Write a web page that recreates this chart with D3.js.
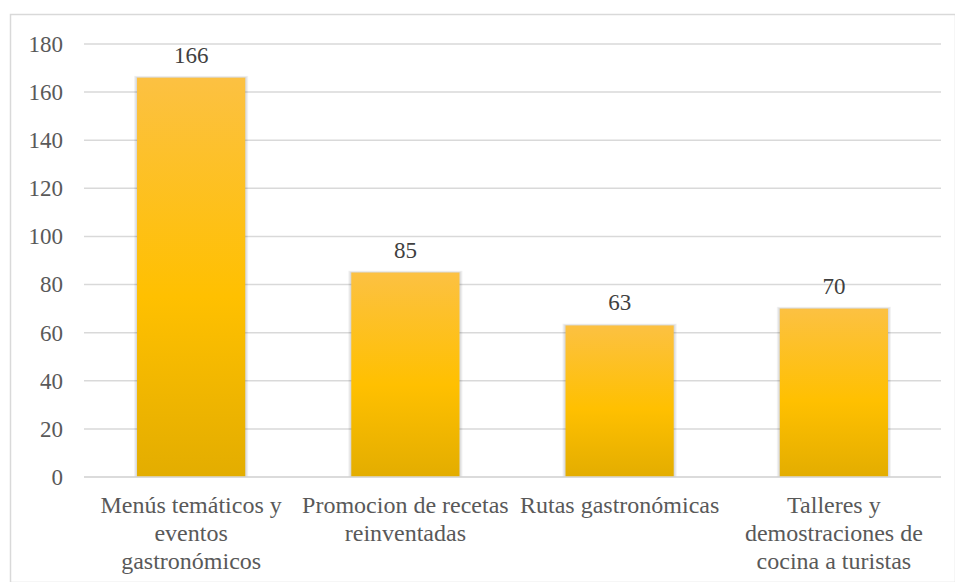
<!DOCTYPE html>
<html><head><meta charset="utf-8">
<script src="https://cdn.jsdelivr.net/npm/d3@7"></script>
<style>
html,body{margin:0;padding:0;background:#fff;}
svg{display:block;font-family:'Liberation Serif';}
svg text, svg tspan{font-family:'Liberation Serif' !important;}
</style></head>
<body>
<svg id="chart" width="955" height="582"></svg>
<script>
const categories = [
  ["Menús temáticos y", "eventos", "gastronómicos"],
  ["Promocion de recetas", "reinventadas"],
  ["Rutas gastronómicas"],
  ["Talleres y", "demostraciones de", "cocina a turistas"]
];
const values = [166, 85, 63, 70];
const yTicks = [0, 20, 40, 60, 80, 100, 120, 140, 160, 180];

const svg = d3.select("#chart");
const W = 955, H = 582;
const m = {left: 84, right: 14, top: 44, bottom: 105};
const plotW = W - m.left - m.right, plotH = H - m.top - m.bottom;
const txtColor = "#595959";
const numStyle = "font-family:'Liberation Serif';font-size:23px";
const catStyle = "font-family:'Liberation Serif';font-size:24px";

// outer border
svg.append("rect").attr("x", 10.5).attr("y", 14.5).attr("width", W - 10).attr("height", H - 14)
  .attr("fill", "none").attr("stroke", "#d9d9d9").attr("stroke-width", 1.5);

const defs = svg.append("defs");
const grad = defs.append("linearGradient").attr("id", "barGrad")
  .attr("x1", 0).attr("y1", 0).attr("x2", 0).attr("y2", 1);
grad.append("stop").attr("offset", "0%").attr("stop-color", "#fcc142");
grad.append("stop").attr("offset", "55%").attr("stop-color", "#ffc000");
grad.append("stop").attr("offset", "100%").attr("stop-color", "#e3ad00");

const g = svg.append("g").attr("transform", `translate(${m.left},${m.top})`);

const x = d3.scaleBand().domain(d3.range(categories.length)).range([0, plotW])
  .paddingInner(0.495).paddingOuter(0.2475);
const y = d3.scaleLinear().domain([0, 180]).range([plotH, 0]);

// gridlines
g.selectAll("line.grid").data(yTicks).join("line")
  .attr("x1", 0).attr("x2", plotW)
  .attr("y1", d => y(d)).attr("y2", d => y(d))
  .attr("stroke", "#d9d9d9").attr("stroke-width", 1.5);

// y axis labels
const yAxis = g.append("g").call(d3.axisLeft(y).tickValues(yTicks).tickSize(0).tickPadding(21));
yAxis.attr("font-family", null).attr("font-size", null);
yAxis.select(".domain").remove();
yAxis.selectAll("text").attr("style", numStyle).attr("fill", txtColor);

// soft shadow behind bars
[3, 2, 1].forEach(k => {
  g.selectAll(null).data(values).join("rect")
    .attr("x", (d, i) => x(i) - k).attr("width", x.bandwidth() + 2 * k)
    .attr("y", d => y(d) - k * 0.6).attr("height", d => y(0) - y(d) + k * 0.6)
    .attr("fill", "#000").attr("fill-opacity", 0.05);
});

// bars
g.selectAll("rect.bar").data(values).join("rect").attr("class", "bar")
  .attr("x", (d, i) => x(i)).attr("width", x.bandwidth())
  .attr("y", d => y(d)).attr("height", d => y(0) - y(d))
  .attr("fill", "url(#barGrad)");

// value labels
g.selectAll("text.val").data(values).join("text").attr("class", "val")
  .attr("x", (d, i) => x(i) + x.bandwidth() / 2).attr("y", d => y(d) - 15)
  .attr("text-anchor", "middle").attr("style", numStyle)
  .attr("fill", "#404040").text(d => d);

// x axis line
g.append("line").attr("x1", 0).attr("x2", plotW).attr("y1", plotH).attr("y2", plotH)
  .attr("stroke", "#d9d9d9").attr("stroke-width", 1.5);

// category labels
const cl = g.selectAll("text.cat").data(categories).join("text").attr("class", "cat")
  .attr("text-anchor", "middle").attr("style", catStyle).attr("fill", txtColor)
  .attr("transform", (d, i) => `translate(${x(i) + x.bandwidth() / 2},${plotH + 36})`);
cl.selectAll("tspan").data(d => d).join("tspan")
  .attr("x", 0).attr("dy", (d, j) => j === 0 ? 0 : 28).text(d => d);
</script>
</body></html>
